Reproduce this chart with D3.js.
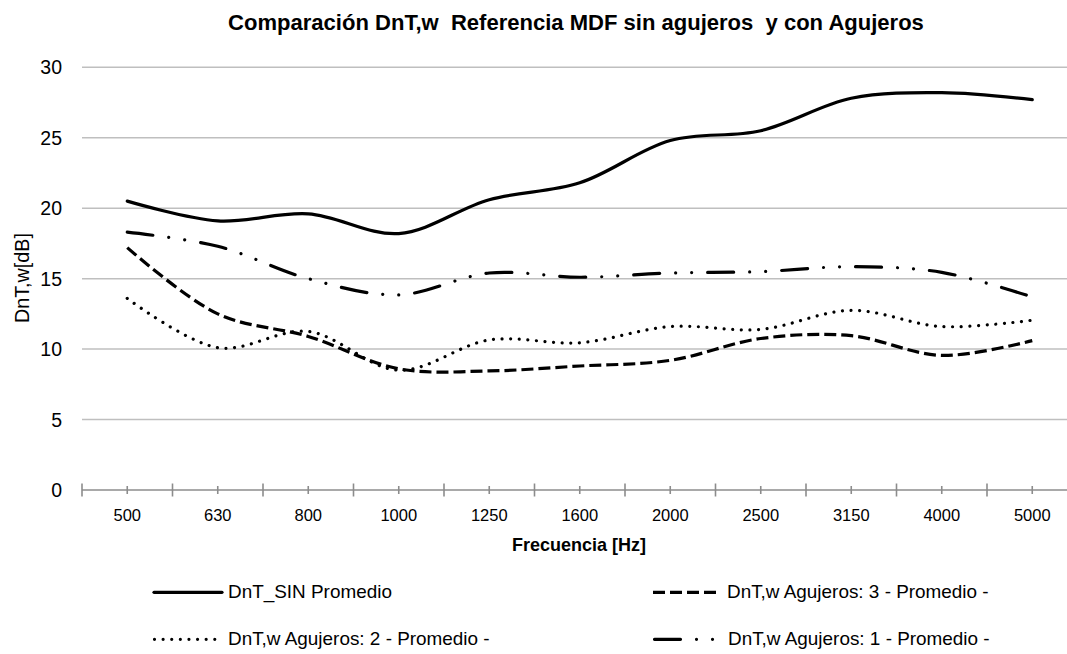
<!DOCTYPE html>
<html>
<head>
<meta charset="utf-8">
<script src="https://cdn.jsdelivr.net/npm/d3@7/dist/d3.min.js"></script>
<style>
  html, body { margin: 0; padding: 0; background: #fff; }
  svg { display: block; font-family: "Liberation Sans", Arial, sans-serif; }
  text { white-space: pre; }
</style>
</head>
<body>
<svg id="chart" width="1067" height="654"></svg>
<script>
const categories = ["500","630","800","1000","1250","1600","2000","2500","3150","4000","5000"];
const sinPromedio = [20.5, 19.1, 19.6, 18.2, 20.6, 21.8, 24.8, 25.5, 27.8, 28.2, 27.7];
const agujeros3   = [17.2, 12.5, 10.9, 8.6, 8.45, 8.8, 9.2, 10.75, 10.95, 9.55, 10.6];
const agujeros2   = [13.6, 10.1, 11.25, 8.5, 10.65, 10.45, 11.6, 11.4, 12.75, 11.6, 12.05];
const agujeros1   = [18.3, 17.3, 15.0, 13.85, 15.4, 15.1, 15.4, 15.5, 15.85, 15.45, 13.7];
const yTicks = [0, 5, 10, 15, 20, 25, 30];

const titleText = "Comparación DnT,w  Referencia MDF sin agujeros  y con Agujeros";
const xTitle = "Frecuencia [Hz]";
const yTitle = "DnT,w[dB]";

const series = [
  { name: "DnT_SIN Promedio", values: sinPromedio, dash: null, cap: "round" },
  { name: "DnT,w Agujeros: 3 - Promedio -", values: agujeros3, dash: "12,5", cap: "butt" },
  { name: "DnT,w Agujeros: 2 - Promedio -", values: agujeros2, dash: "0.01,8.6", cap: "round" },
  { name: "DnT,w Agujeros: 1 - Promedio -", values: agujeros1, dash: "26,16,0.01,16,0.01,16", cap: "round" }
];

const svg = d3.select("#chart");
const left = 82, band = 90.5;
const x = d3.scaleBand().domain(categories).range([left, left + band * categories.length]);
const y = d3.scaleLinear().domain([0, 30]).range([490, 67.3]);
const xc = c => x(c) + x.bandwidth() / 2;

function fit(sel, target) {
  const fs = parseFloat(sel.attr("font-size"));
  const w = sel.node().getBBox().width;
  sel.attr("font-size", (fs * target / w).toFixed(2));
}

// gridlines
svg.append("g").selectAll("line").data(yTicks.filter(d => d > 0)).join("line")
  .attr("x1", left).attr("x2", x.range()[1])
  .attr("y1", d => y(d)).attr("y2", d => y(d))
  .attr("stroke", "#bfbfbf").attr("stroke-width", 1.5);

// y labels
svg.append("g").selectAll("text").data(yTicks).join("text")
  .attr("x", 62).attr("y", d => y(d) + 7)
  .attr("text-anchor", "end").attr("font-size", 19.5).attr("fill", "#000")
  .text(d => d);

// x axis
const ax = svg.append("g");
ax.append("line").attr("x1", left).attr("x2", x.range()[1])
  .attr("y1", y(0)).attr("y2", y(0)).attr("stroke", "#8c8c8c").attr("stroke-width", 1.6);
const bounds = categories.map(c => x(c)).concat([x.range()[1]]);
ax.selectAll(".maj").data(bounds).join("line").attr("class", "maj")
  .attr("x1", d => d).attr("x2", d => d).attr("y1", y(0) - 6.5).attr("y2", y(0) + 6.5)
  .attr("stroke", "#8c8c8c").attr("stroke-width", 1.6);
ax.selectAll(".min").data(categories).join("line").attr("class", "min")
  .attr("x1", d => xc(d)).attr("x2", d => xc(d)).attr("y1", y(0) - 4).attr("y2", y(0) + 4)
  .attr("stroke", "#8c8c8c").attr("stroke-width", 1.6);
ax.selectAll("text").data(categories).join("text")
  .attr("x", d => xc(d)).attr("y", 520.5).attr("text-anchor", "middle")
  .attr("font-size", 16.5).attr("fill", "#000").text(d => d);

// lines
const line = d3.line().x((d, i) => xc(categories[i])).y(d => y(d)).curve(d3.curveCatmullRom.alpha(0.5));
const lg = svg.append("g");
series.forEach(s => {
  lg.append("path").attr("d", line(s.values)).attr("fill", "none")
    .attr("stroke", "#000").attr("stroke-width", 3.2)
    .attr("stroke-dasharray", s.dash).attr("stroke-linecap", s.cap)
    .attr("stroke-linejoin", "round");
});

// titles
const t = svg.append("text").attr("x", 576).attr("y", 30).attr("text-anchor", "middle")
  .attr("font-weight", "bold").attr("font-size", 21).attr("fill", "#000").text(titleText);
fit(t, 696);
const xt = svg.append("text").attr("x", 579).attr("y", 551).attr("text-anchor", "middle")
  .attr("font-weight", "bold").attr("font-size", 17).attr("fill", "#000").text(xTitle);
fit(xt, 134);
const yt = svg.append("text").attr("transform", "translate(29,278) rotate(-90)")
  .attr("text-anchor", "middle").attr("font-size", 18).attr("fill", "#000").text(yTitle);
fit(yt, 90);

// legend
const legPos = [
  { lx: 154, tx: 228, ly: 592.3, ty: 598 },
  { lx: 653, tx: 727, ly: 592.3, ty: 598 },
  { lx: 154.5, tx: 228, ly: 639.3, ty: 645 },
  { lx: 654.5, tx: 728, ly: 639.3, ty: 645 }
];
const leg = svg.append("g");
let legFont = 19;
series.forEach((s, i) => {
  const p = legPos[i];
  leg.append("line").attr("x1", p.lx).attr("x2", p.lx + 68 - (p.lx % 1 ? 1 : 0))
    .attr("y1", p.ly).attr("y2", p.ly).attr("stroke", "#000").attr("stroke-width", 3.2)
    .attr("stroke-dasharray", s.dash).attr("stroke-linecap", s.cap);
  const tx = leg.append("text").attr("x", p.tx).attr("y", p.ty).attr("font-size", legFont)
    .attr("fill", "#000").text(s.name);
  if (i === 0) { fit(tx, 164); legFont = parseFloat(tx.attr("font-size")); }
});
</script>
</body>
</html>
